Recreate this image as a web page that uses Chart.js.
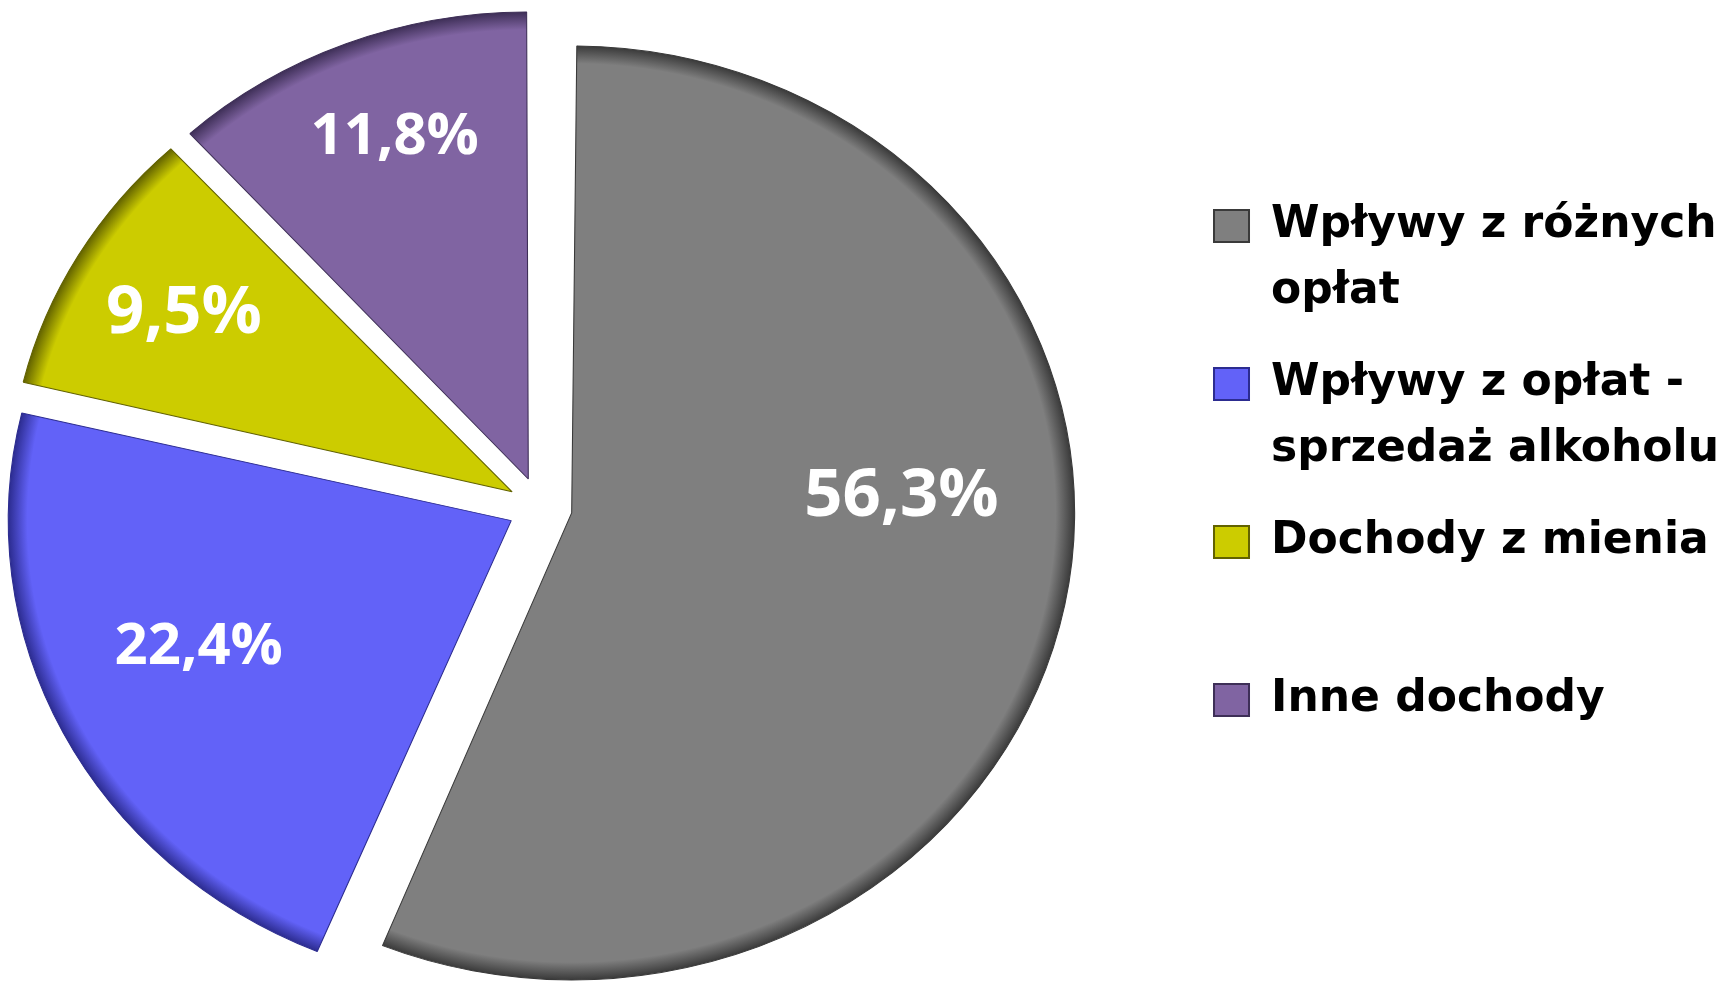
<!DOCTYPE html>
<html lang="pl">
<head>
<meta charset="utf-8">
<title>Struktura dochodów</title>
<script src="https://cdn.jsdelivr.net/npm/chart.js@4.4.1/dist/chart.umd.min.js"></script>
<style>
  html, body { margin: 0; padding: 0; background: #fff; }
  #wrap { width: 1729px; height: 982px; }
</style>
</head>
<body>
<div id="wrap"><canvas id="wykres"></canvas></div>
<script>
// Dane wykresu
const kategorie = [
    ["Wpływy z różnych", "opłat"],
    ["Wpływy z opłat -", "sprzedaż alkoholu"],
    ["Dochody z mienia", ""],
    ["Inne dochody", ""]
];
const udzialy = [56.3, 22.4, 9.5, 11.8];

const kolory = ["#7f7f7f", "#6262f8", "#cccc00", "#8064a2"];
const koloryKrawedzi = ["#3a3a3a", "#2c2c90", "#626200", "#3e2f57"];

// Położenie etykiet procentowych (ułamek promienia, przesunięcie kąta w stopniach, rozmiar czcionki)
const promienEtykiety = [0.655, 0.674, 0.761, 0.787];
const przesuniecieKata = [-13.9, 3.8, 0.5, 1.4];
const rozmiarEtykiety = [67, 58, 67, 58];

const PROMIEN = 467;
const ODSUNIECIE = 30;   // wysunięcie wycinków w px
const SKALA_X = 1.077;   // koło w oryginale jest lekko rozciągnięte w poziomie
const SRODEK_X = 540;    // środek koła (legenda zabiera prawą część)

// Chart.js powiększa promień wysuniętego łuku zależnie od jego rozpiętości
function dodatekPromienia(i) {
    const kat = udzialy[i] / 100 * Math.PI * 2;
    return ODSUNIECIE * (1 - Math.sin(Math.min(Math.PI, kat)));
}

// cieniowanie brzegu wycinka (namiastka fazowania z Excela)
function wypelnienie(ctx) {
    const chart = ctx.chart;
    const area = chart.chartArea;
    const i = ctx.dataIndex;
    if (!area) return kolory[i];
    const cx = (area.left + area.right) / 2;
    const cy = (area.top + area.bottom) / 2;
    const g = chart.ctx.createRadialGradient(cx, cy, 0, cx, cy, PROMIEN);
    g.addColorStop(0, kolory[i]);
    g.addColorStop(0.962, kolory[i]);
    g.addColorStop(1, koloryKrawedzi[i]);
    return g;
}

const rozciagnijKolo = {
    id: "rozciagnijKolo",
    beforeDatasetsDraw(chart) {
        const luk = chart.getDatasetMeta(0).data[0];
        const ctx = chart.ctx;
        ctx.save();
        ctx.translate(SRODEK_X, luk.y);
        ctx.scale(SKALA_X, 1);
        ctx.translate(-luk.x, -luk.y);
    },
    beforeDatasetDraw(chart, args) {
        // wszystkie wycinki z jednakowym promieniem
        args.meta.data.forEach((luk, i) => {
            luk.outerRadius = PROMIEN - dodatekPromienia(i);
        });
    },
    afterDatasetDraw(chart, args) {
        args.meta.data.forEach(luk => {
            luk.outerRadius = PROMIEN;
        });
    },
    afterDatasetsDraw(chart) {
        const ctx = chart.ctx;
        ctx.restore();

        // Etykiety procentowe
        const meta = chart.getDatasetMeta(0);
        meta.data.forEach((luk, i) => {
            const kat = (luk.startAngle + luk.endAngle) / 2 + przesuniecieKata[i] * Math.PI / 180;
            const r = PROMIEN * promienEtykiety[i] + luk.options.offset / 4;
            const x = SRODEK_X + Math.cos(kat) * r * SKALA_X;
            const y = luk.y + Math.sin(kat) * r;
            const rozmiar = rozmiarEtykiety[i];
            const tekst = udzialy[i].toFixed(1).replace(".", ",") + "%";
            ctx.save();
            ctx.font = `bold ${rozmiar}px "Open Sans"`;
            ctx.fillStyle = "#ffffff";
            ctx.textAlign = "center";
            ctx.textBaseline = "alphabetic";
            ctx.fillText(tekst, x, y + rozmiar * 0.357);
            ctx.restore();
        });
    }
};

new Chart(document.getElementById("wykres"), {
    type: "pie",
    data: {
        labels: kategorie,
        datasets: [{
            data: udzialy,
            backgroundColor: wypelnienie,
            borderColor: koloryKrawedzi,
            borderWidth: 1,
            offset: ODSUNIECIE * 4, // Chart.js przesuwa łuk o offset/4
            radius: PROMIEN
        }]
    },
    options: {
        responsive: true,
        maintainAspectRatio: false,
        animation: false,
        layout: {
            padding: { left: 0, top: 32, right: 0, bottom: 0 }
        },
        plugins: {
            tooltip: { enabled: false },
            legend: {
                position: "right",
                labels: {
                    boxWidth: 35,
                    boxHeight: 32,
                    padding: 26,
                    color: "#000000",
                    font: { family: "DejaVu Sans", weight: "bold", size: 44, lineHeight: 66 / 44 },
                    generateLabels(chart) {
                        const elementy = Chart.overrides.pie.plugins.legend.labels.generateLabels(chart);
                        elementy.forEach((el, i) => {
                            el.fillStyle = kolory[i];
                            el.strokeStyle = koloryKrawedzi[i];
                            el.lineWidth = 2;
                        });
                        return elementy;
                    }
                }
            }
        }
    },
    plugins: [rozciagnijKolo]
});
</script>
</body>
</html>
